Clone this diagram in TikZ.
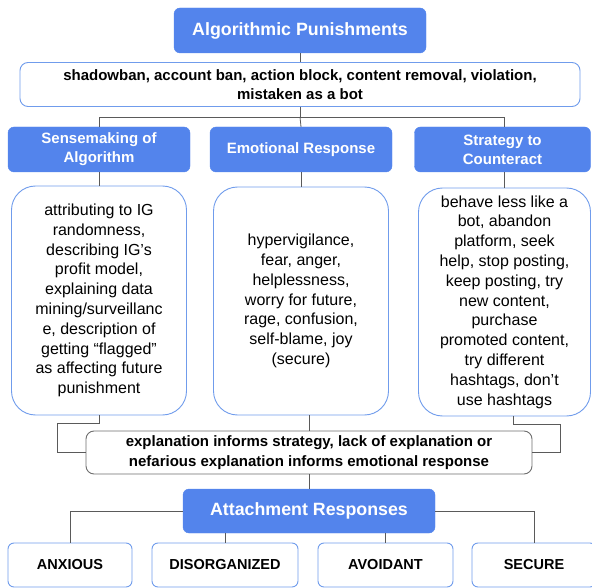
\documentclass[tikz,border=0pt]{standalone}
\usepackage{fontspec}
\setmainfont{Liberation Sans}
\definecolor{blu}{RGB}{83,132,236}
\definecolor{bord}{RGB}{112,156,236}
\definecolor{ln}{RGB}{90,90,90}
\definecolor{gbord}{RGB}{110,110,110}
\begin{document}
\begin{tikzpicture}[x=1pt,y=-1pt,
  bluebox/.style={fill=blu, draw=blu, text=white, rounded corners=6pt, inner sep=0pt, align=center},
  bigfont/.style={font=\fontsize{17.8}{21}\selectfont\bfseries},
  headfont/.style={font=\fontsize{15}{19.3}\selectfont\bfseries},
  whitebox/.style={fill=white, draw=bord, line width=0.9pt, rounded corners=8pt, inner sep=0pt, align=center},
  textbox/.style={whitebox, rounded corners=24pt, font=\fontsize{16}{19.8}\selectfont},
  graybox/.style={fill=white, draw=gbord, line width=0.9pt, rounded corners=8pt, inner sep=0pt, align=center, font=\fontsize{15}{19.3}\selectfont\bfseries},
  leafbox/.style={whitebox, rounded corners=6pt, font=\fontsize{14.5}{17}\selectfont\bfseries, minimum height=44pt},
  conn/.style={draw=ln, line width=0.8pt}
]
\useasboundingbox (0,0) rectangle (592,588);

\node[bluebox, bigfont, minimum width=252pt, minimum height=45pt] (title) at (300,30.5) {Algorithmic Punishments};
\node[whitebox, headfont, minimum width=560pt, minimum height=44pt] (pun) at (300,84.5)
  {shadowban, account ban, action block, content removal, violation,\\mistaken as a bot};

\node[bluebox, headfont, minimum width=182pt, minimum height=45pt] (h1) at (99,149.5) {Sensemaking of\\Algorithm};
\node[bluebox, headfont, minimum width=182pt, minimum height=45pt] (h2) at (301,149.5) {Emotional Response};
\node[bluebox, headfont, minimum width=176pt, minimum height=45pt] (h3) at (502.5,149.5) {Strategy to\\Counteract};

\node[textbox, minimum width=175pt, minimum height=229pt] (t1) at (99,300.5)
  {attributing to IG\\randomness,\\describing IG’s\\profit model,\\explaining data\\mining/surveillanc\\e, description of\\getting “flagged”\\as affecting future\\punishment};
\node[textbox, minimum width=175pt, minimum height=228pt] (t2) at (301,301)
  {hypervigilance,\\fear, anger,\\helplessness,\\worry for future,\\rage, confusion,\\self-blame, joy\\(secure)};
\node[textbox, minimum width=172pt, minimum height=228pt] (t3) at (504.5,302)
  {behave less like a\\bot, abandon\\platform, seek\\help, stop posting,\\keep posting, try\\new content,\\purchase\\promoted content,\\try different\\hashtags, don’t\\use hashtags};

\node[graybox, minimum width=446pt, minimum height=43pt] (ex) at (309,452.5)
  {explanation informs strategy, lack of explanation or\\nefarious explanation informs emotional response};

\node[bluebox, bigfont, minimum width=252pt, minimum height=44pt] (att) at (309,511) {Attachment Responses};

\node[leafbox, minimum width=124pt] (l1) at (70,565) {ANXIOUS};
\node[leafbox, minimum width=146pt] (l2) at (225,565) {DISORGANIZED};
\node[leafbox, minimum width=135pt] (l3) at (385.5,565) {AVOIDANT};
\node[leafbox, minimum width=124pt] (l4) at (534,565) {SECURE};

% connectors
\draw[conn] (title.south) -- (pun.north);
\draw[conn] (pun.south) -- ++(0,10) coordinate (bus);
\draw[conn] (h1.north) |- (bus) -| (t3.north |- h3.north);
\draw[conn] (bus) -- (h2.north);
\draw[conn] (h1.south) -- (t1.north);
\draw[conn] (h2.south) -- (t2.north);
\draw[conn] (t3.north |- h3.south) -- (t3.north);
\draw[conn] (t1.south) -- ++(0,8) -| ([xshift=-28pt]ex.west) -- (ex.west);
\draw[conn] ([xshift=8.5pt]t3.south) -- ++(0,8) -| ([xshift=28pt]ex.east) -- (ex.east);
\draw[conn] (ex.north) -- (ex.north |- t2.south);
\draw[conn] (ex.south) -- (att.north);
\draw[conn] (att.west) -| (l1.north);
\draw[conn] (att.east) -| (l4.north);
\draw[conn] (l2.north) -- (l2.north |- att.south);
\draw[conn] (l3.north) -- (l3.north |- att.south);
\end{tikzpicture}
\end{document}
